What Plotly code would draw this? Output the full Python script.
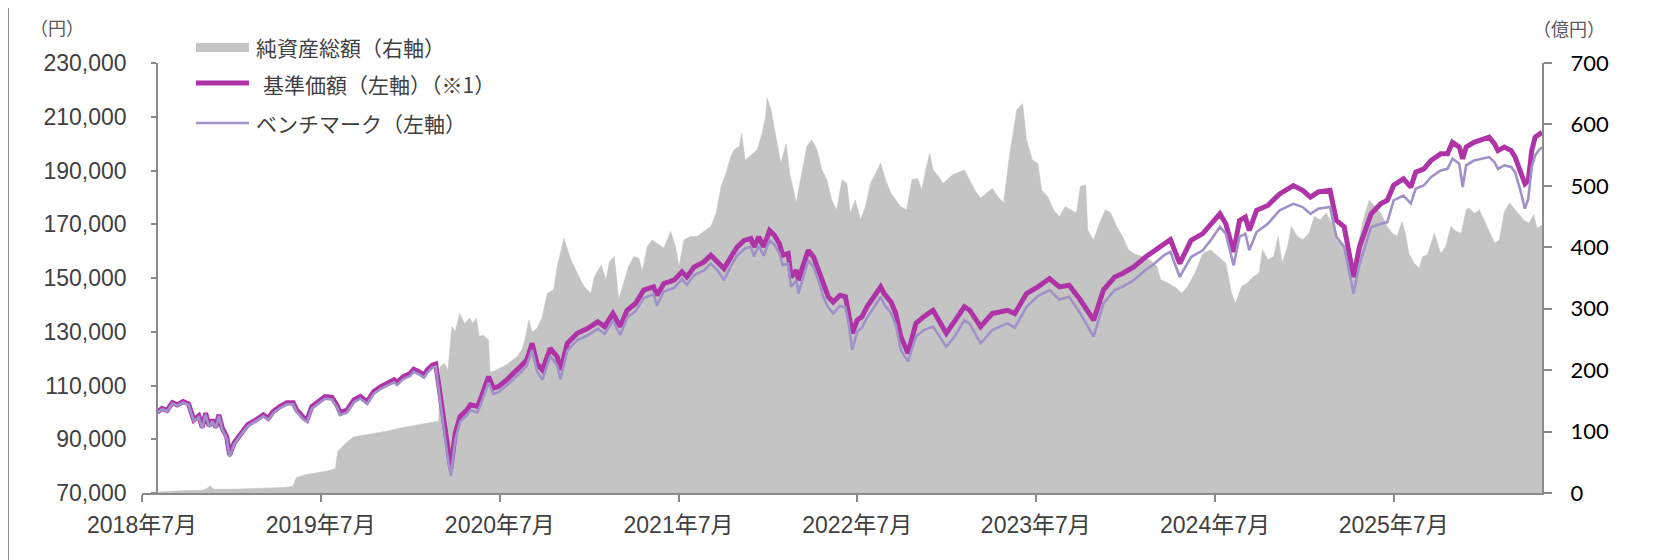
import plotly.graph_objects as go
from datetime import date

# ---------------- data ----------------
nav_dates = [
    "2018-08-01", "2018-08-11", "2018-08-21", "2018-09-01", "2018-09-11", "2018-09-23", "2018-10-04",
    "2018-10-15", "2018-10-25", "2018-11-01", "2018-11-08", "2018-11-15", "2018-11-22", "2018-11-29",
    "2018-12-05", "2018-12-12", "2018-12-21", "2018-12-27", "2019-01-05", "2019-01-19", "2019-02-02",
    "2019-02-19", "2019-03-06", "2019-03-16", "2019-03-26", "2019-04-09", "2019-04-23", "2019-05-06",
    "2019-05-13", "2019-05-26", "2019-06-03", "2019-06-13", "2019-06-27", "2019-07-10", "2019-07-24",
    "2019-08-03", "2019-08-10", "2019-08-24", "2019-09-07", "2019-09-20", "2019-10-04", "2019-10-17",
    "2019-11-01", "2019-11-14", "2019-11-28", "2019-12-04", "2019-12-17", "2019-12-31", "2020-01-07",
    "2020-01-17", "2020-01-28", "2020-02-04", "2020-02-14", "2020-02-21", "2020-03-01", "2020-03-08",
    "2020-03-15", "2020-03-23", "2020-04-01", "2020-04-11", "2020-04-25", "2020-05-02", "2020-05-16",
    "2020-05-22", "2020-06-08", "2020-06-18", "2020-06-28", "2020-07-15", "2020-08-05", "2020-08-25",
    "2020-09-05", "2020-09-15", "2020-09-26", "2020-10-12", "2020-10-26", "2020-11-02", "2020-11-16",
    "2020-12-06", "2020-12-27", "2021-01-17", "2021-01-31", "2021-02-17", "2021-03-04", "2021-03-18",
    "2021-04-04", "2021-04-21", "2021-05-11", "2021-05-18", "2021-06-01", "2021-06-22", "2021-07-08",
    "2021-07-18", "2021-08-02", "2021-08-22", "2021-09-05", "2021-09-19", "2021-10-02", "2021-10-16",
    "2021-10-29", "2021-11-12", "2021-11-26", "2021-12-02", "2021-12-12", "2021-12-22", "2022-01-03",
    "2022-01-13", "2022-01-23", "2022-01-30", "2022-02-10", "2022-02-16", "2022-02-27", "2022-03-03",
    "2022-03-13", "2022-03-23", "2022-04-03", "2022-04-13", "2022-04-23", "2022-05-03", "2022-05-13",
    "2022-05-27", "2022-06-07", "2022-06-14", "2022-06-21", "2022-07-01", "2022-07-11", "2022-07-21",
    "2022-08-04", "2022-08-18", "2022-08-25", "2022-09-08", "2022-09-18", "2022-09-28", "2022-10-13",
    "2022-10-29", "2022-11-14", "2022-12-03", "2022-12-30", "2023-01-16", "2023-02-05", "2023-02-16",
    "2023-03-10", "2023-04-03", "2023-05-04", "2023-05-19", "2023-06-12", "2023-07-05", "2023-07-29",
    "2023-08-18", "2023-09-07", "2023-09-30", "2023-10-27", "2023-11-16", "2023-12-09", "2023-12-25",
    "2024-01-17", "2024-02-10", "2024-02-26", "2024-03-19", "2024-04-01", "2024-04-20", "2024-05-13",
    "2024-06-06", "2024-06-22", "2024-07-11", "2024-07-23", "2024-08-08", "2024-08-20", "2024-09-01",
    "2024-09-09", "2024-09-24", "2024-10-17", "2024-11-10", "2024-12-08", "2024-12-27", "2025-01-12",
    "2025-01-28", "2025-02-21", "2025-03-06", "2025-03-22", "2025-04-10", "2025-04-22", "2025-05-16",
    "2025-06-05", "2025-06-18", "2025-07-01", "2025-07-21", "2025-08-05", "2025-08-15", "2025-09-01",
    "2025-09-15", "2025-10-05", "2025-10-19", "2025-10-29", "2025-11-12", "2025-11-19", "2025-11-26",
    "2025-12-12", "2025-12-26", "2026-01-12", "2026-01-23", "2026-01-30", "2026-02-12", "2026-02-26",
    "2026-03-06", "2026-03-16", "2026-03-26", "2026-04-02", "2026-04-09", "2026-04-16", "2026-04-23",
    "2026-04-30",
]

# 基準価額（円）
nav_values = [
    100000, 101500, 100700, 103600, 102800, 104000, 103200,
    97200, 98700, 94500, 99700, 95000, 97200, 94500,
    99100, 94100, 91000, 84200, 88600, 92300, 95400,
    97200, 99100, 97800, 100300, 102200, 103600, 103600,
    100900, 98200, 97200, 102200, 104000, 105900, 105600,
    102800, 99900, 100900, 104600, 105900, 104000, 107700,
    109600, 110800, 112100, 111100, 113300, 114500, 116000,
    115200, 113900, 115800, 117600, 118000, 105900, 97200,
    87300, 79000, 92300, 98500, 101000, 102800, 102200,
    104600, 113300, 109000, 109600, 112100, 115800, 119500,
    125700, 118000, 115800, 123800, 120700, 115800, 125700,
    129400, 131200, 133700, 131900, 136800, 131900, 138000,
    140500, 145500, 146700, 143600, 147900, 149200, 152300,
    150400, 154100, 156000, 158500, 156000, 153500, 157800,
    161600, 164000, 164700, 161600, 165300, 161600, 167700,
    165900, 162800, 158500, 159100, 150400, 152900, 149200,
    154100, 160300, 157800, 152900, 146700, 143000, 141100,
    143600, 143000, 136800, 129400, 134300, 135600, 139300,
    143000, 146700, 144200, 141100, 136800, 128200, 122000,
    133100, 135600, 138000, 129400, 134300, 139300, 138000,
    131900, 136800, 138000, 136800, 144200, 146700, 149800,
    146700, 147300, 141800, 134300, 145500, 150400, 151700,
    154100, 157800, 159700, 162800, 164300, 155400, 164000,
    166500, 170200, 173900, 170200, 159700, 171400, 172700,
    167700, 175200, 177000, 181300, 184400, 182600, 180100,
    182000, 182600, 171400, 169000, 150400, 161600, 173900,
    177700, 178900, 184500, 186900, 183800, 189400, 190600,
    193700, 196200, 196200, 200500, 198700, 194400, 198700,
    200500, 201200, 202400, 199900, 197400, 198700, 197400,
    195000, 190000, 185100, 186300, 197400, 202400, 203600,
    204200,
]

# ベンチマーク（円）
bench_values = [
    99800, 101200, 100400, 103300, 102500, 103600, 102800,
    96800, 98200, 94000, 99200, 94500, 96700, 94000,
    98600, 93600, 90400, 83500, 88000, 91700, 94800,
    96600, 98500, 97200, 99700, 101600, 103000, 103000,
    100200, 97400, 96400, 101400, 103200, 105100, 104800,
    102000, 99000, 100000, 103800, 105100, 103200, 106900,
    108800, 110000, 111200, 110200, 112400, 113600, 115100,
    114200, 112900, 114800, 116600, 117000, 104500, 95500,
    85000, 76300, 89800, 96500, 99000, 100800, 100000,
    102500, 111000, 106800, 107500, 110000, 113500, 117300,
    123200, 115300, 112100, 121000, 117500, 112300, 123000,
    126900, 128600, 131200, 129200, 134000, 128800, 135200,
    137600, 142500, 144000, 139800, 145000, 146300, 149600,
    147500, 151000, 152800, 155400, 152800, 149200, 154500,
    158400, 160800, 161600, 158000, 162000, 158300, 164000,
    162400, 159200, 154800, 155400, 146700, 149200, 144200,
    150400, 156600, 154000, 149000, 142800, 139000, 136800,
    139600, 139000, 132500, 123200, 130000, 131500, 135200,
    139000, 143000, 140200, 137000, 132500, 123200, 118900,
    128200, 130600, 131900, 124400, 128200, 134300, 132900,
    125700, 130600, 133100, 131500, 139300, 143300, 145500,
    142000, 143000, 136800, 128200, 140500, 145500, 146700,
    149200, 153000, 155000, 158500, 159700, 150400, 157800,
    160300, 164000, 169000, 166500, 154700, 165300, 166500,
    160300, 167100, 170200, 175200, 177600, 176400, 173900,
    175800, 176400, 165300, 161600, 144200, 155000, 169000,
    170200, 170800, 178900, 180700, 177700, 183200, 184500,
    187500, 190000, 190600, 194400, 192500, 183800, 191900,
    193700, 194400, 195000, 193100, 190600, 191900, 191300,
    189400, 183200, 175800, 179500, 191300, 195600, 197400,
    198700,
]

aum_dates = [
    "2018-08-01", "2018-08-31", "2018-10-01", "2018-10-31", "2018-11-10", "2018-11-17", "2018-11-25",
    "2019-01-15", "2019-03-01", "2019-04-15", "2019-05-05", "2019-05-12", "2019-06-01", "2019-06-20",
    "2019-07-15", "2019-07-31", "2019-08-05", "2019-08-20", "2019-09-05", "2019-09-25", "2019-10-20",
    "2019-11-15", "2019-12-10", "2020-01-10", "2020-02-10", "2020-02-27", "2020-03-01", "2020-03-10",
    "2020-03-17", "2020-03-25", "2020-04-01", "2020-04-10", "2020-04-20", "2020-04-30", "2020-05-07",
    "2020-05-14", "2020-05-20", "2020-05-28", "2020-06-08", "2020-06-11", "2020-06-19", "2020-07-15",
    "2020-08-05", "2020-08-15", "2020-08-22", "2020-08-29", "2020-09-05", "2020-09-15", "2020-09-25",
    "2020-10-06", "2020-10-19", "2020-10-26", "2020-11-09", "2020-11-23", "2020-12-06", "2020-12-20",
    "2021-01-03", "2021-01-10", "2021-01-24", "2021-02-03", "2021-02-10", "2021-02-20", "2021-03-01",
    "2021-03-11", "2021-03-21", "2021-04-01", "2021-04-11", "2021-04-18", "2021-04-28", "2021-05-08",
    "2021-05-18", "2021-06-01", "2021-06-15", "2021-06-25", "2021-07-02", "2021-07-12", "2021-07-26",
    "2021-08-09", "2021-08-22", "2021-09-05", "2021-09-16", "2021-09-26", "2021-10-06", "2021-10-16",
    "2021-10-23", "2021-11-02", "2021-11-07", "2021-11-14", "2021-11-26", "2021-12-09", "2021-12-19",
    "2021-12-26", "2021-12-29", "2022-01-06", "2022-01-16", "2022-01-26", "2022-02-06", "2022-02-13",
    "2022-02-27", "2022-03-03", "2022-03-10", "2022-03-20", "2022-03-30", "2022-04-10", "2022-04-20",
    "2022-04-30", "2022-05-10", "2022-05-20", "2022-05-31", "2022-06-10", "2022-06-17", "2022-06-27",
    "2022-07-08", "2022-07-18", "2022-07-28", "2022-08-08", "2022-08-18", "2022-08-28", "2022-09-08",
    "2022-09-18", "2022-09-28", "2022-10-10", "2022-10-21", "2022-11-02", "2022-11-10", "2022-11-18",
    "2022-11-26", "2022-12-03", "2022-12-15", "2022-12-23", "2023-01-12", "2023-02-05", "2023-02-16",
    "2023-02-28", "2023-03-10", "2023-03-22", "2023-04-03", "2023-04-14", "2023-04-26", "2023-05-08",
    "2023-05-16", "2023-05-23", "2023-06-04", "2023-06-12", "2023-06-24", "2023-07-05", "2023-07-13",
    "2023-07-25", "2023-08-06", "2023-08-18", "2023-08-30", "2023-09-10", "2023-09-22", "2023-09-30",
    "2023-10-11", "2023-10-15", "2023-10-27", "2023-11-08", "2023-11-20", "2023-12-01", "2023-12-13",
    "2023-12-25", "2024-01-06", "2024-01-17", "2024-02-03", "2024-02-18", "2024-03-04", "2024-03-12",
    "2024-03-27", "2024-04-12", "2024-04-24", "2024-05-06", "2024-05-21", "2024-06-06", "2024-06-22",
    "2024-07-07", "2024-07-23", "2024-08-04", "2024-08-12", "2024-08-24", "2024-09-05", "2024-09-17",
    "2024-09-29", "2024-10-06", "2024-10-17", "2024-10-29", "2024-11-07", "2024-11-15", "2024-11-26",
    "2024-12-04", "2024-12-16", "2024-12-27", "2025-01-09", "2025-01-20", "2025-02-01", "2025-02-13",
    "2025-02-25", "2025-03-06", "2025-03-22", "2025-04-03", "2025-04-10", "2025-04-18", "2025-04-30",
    "2025-05-12", "2025-05-24", "2025-06-05", "2025-06-18", "2025-06-28", "2025-07-08", "2025-07-18",
    "2025-07-25", "2025-08-01", "2025-08-12", "2025-08-22", "2025-08-29", "2025-09-08", "2025-09-22",
    "2025-10-05", "2025-10-15", "2025-10-26", "2025-11-05", "2025-11-16", "2025-11-26", "2025-12-02",
    "2025-12-13", "2025-12-23", "2026-01-03", "2026-01-13", "2026-01-23", "2026-02-02", "2026-02-12",
    "2026-02-23", "2026-03-03", "2026-03-13", "2026-03-23", "2026-04-03", "2026-04-13", "2026-04-20",
    "2026-04-30",
]

# 純資産総額（億円）
aum_values = [
    1.5, 3.0, 4.0, 4.5, 7.0, 12.0, 6.0,
    6.5, 7.5, 9.0, 11.0, 25.0, 30.0, 33.0,
    36.0, 40.0, 68.0, 80.0, 91.0, 94.0, 97.0,
    101.0, 106.0, 110.0, 114.0, 117.0, 206.0, 211.0,
    200.0, 271.0, 263.0, 292.0, 276.0, 285.0, 276.0,
    285.0, 255.0, 257.0, 249.0, 197.0, 198.0, 209.0,
    222.0, 233.0, 252.0, 282.0, 262.0, 268.0, 285.0,
    325.0, 331.0, 368.0, 415.0, 380.0, 358.0, 336.0,
    325.0, 352.0, 371.0, 347.0, 377.0, 385.0, 315.0,
    342.0, 369.0, 385.0, 382.0, 361.0, 401.0, 412.0,
    407.0, 399.0, 426.0, 401.0, 369.0, 412.0, 418.0,
    418.0, 426.0, 434.0, 456.0, 499.0, 521.0, 548.0,
    559.0, 564.0, 586.0, 542.0, 550.0, 559.0, 586.0,
    613.0, 643.0, 624.0, 580.0, 537.0, 569.0, 521.0,
    472.0, 493.0, 521.0, 564.0, 575.0, 559.0, 526.0,
    510.0, 477.0, 461.0, 510.0, 504.0, 456.0, 477.0,
    445.0, 466.0, 504.0, 521.0, 537.0, 510.0, 488.0,
    477.0, 466.0, 461.0, 510.0, 512.0, 493.0, 526.0,
    553.0, 526.0, 515.0, 504.0, 518.0, 526.0, 510.0,
    491.0, 480.0, 488.0, 496.0, 483.0, 472.0, 548.0,
    591.0, 624.0, 634.0, 575.0, 542.0, 537.0, 493.0,
    483.0, 461.0, 450.0, 466.0, 461.0, 456.0, 499.0,
    502.0, 428.0, 412.0, 439.0, 461.0, 456.0, 434.0,
    418.0, 396.0, 390.0, 385.0, 380.0, 369.0, 347.0,
    342.0, 334.0, 325.0, 336.0, 358.0, 390.0, 396.0,
    385.0, 374.0, 325.0, 309.0, 336.0, 342.0, 352.0,
    358.0, 396.0, 380.0, 385.0, 418.0, 374.0, 401.0,
    434.0, 418.0, 412.0, 423.0, 450.0, 445.0, 456.0,
    439.0, 412.0, 401.0, 369.0, 347.0, 401.0, 445.0,
    477.0, 466.0, 455.0, 434.0, 423.0, 418.0, 442.0,
    423.0, 390.0, 374.0, 366.0, 385.0, 388.0, 423.0,
    390.0, 401.0, 434.0, 426.0, 423.0, 461.0, 464.0,
    455.0, 461.0, 442.0, 423.0, 407.0, 412.0, 458.0,
    472.0, 464.0, 455.0, 445.0, 439.0, 453.0, 431.0,
    436.0,
]

x_tick_dates = ["2018-07-01", "2019-07-01", "2020-07-01", "2021-07-01",
                "2022-07-01", "2023-07-01", "2024-07-01", "2025-07-01"]
x_tick_labels = ["2018年7月", "2019年7月", "2020年7月", "2021年7月",
                 "2022年7月", "2023年7月", "2024年7月", "2025年7月"]
left_ticks = [70000, 90000, 110000, 130000, 150000, 170000, 190000, 210000, 230000]
right_ticks = [0, 100, 200, 300, 400, 500, 600, 700]

x_range = ["2018-07-01", "2026-04-30"]

# ---------------- layout helpers ----------------
# The page body adds an 8px margin, so the figure is drawn 8px smaller and
# all target pixel positions are shifted by that offset.
OFF = 8
W, H = 1658 - OFF, 560 - OFF
L, R, T, B = 142 - OFF, 1542 - OFF, 63 - OFF, 493 - OFF


def px_x(px):
    return (px - OFF - L) / (R - L)


def px_y(py):
    return (B - (py - OFF)) / (B - T)


d0 = date.fromisoformat(x_range[0])
d1 = date.fromisoformat(x_range[1])
ds = date.fromisoformat(nav_dates[0])
left_axis_pos = (ds - d0).days / (d1 - d0).days

AXIS = "#8a8a8a"
GRAY = "#c4c4c4"
PURPLE = "#ae33a6"
LAVENDER = "#a091c8"
TXT = "#404040"
CJK = "Noto Sans CJK JP"

fig = go.Figure()

fig.add_trace(go.Scatter(
    x=aum_dates, y=aum_values, name="純資産総額（右軸）",
    mode="lines", fill="tozeroy", fillcolor=GRAY,
    line=dict(color=GRAY, width=0.5), yaxis="y", hoverinfo="skip",
))
fig.add_trace(go.Scatter(
    x=nav_dates, y=nav_values, name="基準価額（左軸）（※1）",
    mode="lines", line=dict(color=PURPLE, width=5), yaxis="y2",
))
fig.add_trace(go.Scatter(
    x=nav_dates, y=bench_values, name="ベンチマーク（左軸）",
    mode="lines", line=dict(color=LAVENDER, width=2.6), yaxis="y2",
))

fig.update_layout(
    width=W, height=H,
    margin=dict(l=L, r=W - R, t=T, b=H - B, pad=0),
    paper_bgcolor="white", plot_bgcolor="white",
    showlegend=False,
    xaxis=dict(
        type="date", range=x_range,
        tickvals=x_tick_dates, ticktext=x_tick_labels,
        showline=True, linecolor=AXIS, linewidth=2,
        ticks="outside", ticklen=7, tickwidth=2, tickcolor=AXIS,
        showgrid=False, zeroline=False,
        tickfont=dict(family="Liberation Sans, " + CJK, size=23, color=TXT),
        ticklabelstandoff=3,
    ),
    yaxis=dict(
        range=[0, 700], side="right", anchor="x",
        tickvals=right_ticks, ticktext=[str(v) for v in right_ticks],
        showline=True, linecolor=AXIS, linewidth=2,
        ticks="outside", ticklen=8, tickwidth=2, tickcolor=AXIS,
        showgrid=False, zeroline=False,
        tickfont=dict(family="Lato", size=22, color="#000000"),
        ticklabelstandoff=14,
    ),
    yaxis2=dict(
        range=[70000, 230000], side="left", overlaying="y",
        anchor="free", position=left_axis_pos,
        tickvals=left_ticks, ticktext=[f"{v:,}" for v in left_ticks],
        showline=True, linecolor=AXIS, linewidth=2,
        ticks="outside", ticklen=5, tickwidth=2, tickcolor=AXIS,
        showgrid=False, zeroline=False,
        tickfont=dict(family="Liberation Sans", size=23, color=TXT),
        ticklabelstandoff=20,
    ),
)

# outer frame
fig.add_shape(type="rect", xref="paper", yref="paper",
              x0=px_x(8), x1=px_x(1652), y0=px_y(3), y1=px_y(566),
              line=dict(color="#8c8c8c", width=2), fillcolor="rgba(0,0,0,0)", layer="above")

# legend (manual)
fig.add_shape(type="rect", xref="paper", yref="paper",
              x0=px_x(196), x1=px_x(249), y0=px_y(43), y1=px_y(52),
              line=dict(width=0), fillcolor=GRAY)
fig.add_shape(type="line", xref="paper", yref="paper",
              x0=px_x(196), x1=px_x(249), y0=px_y(83), y1=px_y(83),
              line=dict(color=PURPLE, width=5))
fig.add_shape(type="line", xref="paper", yref="paper",
              x0=px_x(196), x1=px_x(249), y0=px_y(123), y1=px_y(123),
              line=dict(color=LAVENDER, width=2.6))

legend_items = [("純資産総額（右軸）", 254, 47), ("基準価額（左軸）（※1）", 261, 84), ("ベンチマーク（左軸）", 254, 123)]
for text, px, py in legend_items:
    fig.add_annotation(xref="paper", yref="paper", x=px_x(px), y=px_y(py),
                       text=text, showarrow=False, xanchor="left", yanchor="middle",
                       font=dict(family=CJK, size=21, color=TXT))

# unit labels
fig.add_annotation(xref="paper", yref="paper", x=px_x(57), y=px_y(27), text="（円）",
                   showarrow=False, xanchor="center", yanchor="middle",
                   font=dict(family=CJK, size=18, color="#595959"))
fig.add_annotation(xref="paper", yref="paper", x=px_x(1569), y=px_y(28), text="（億円）",
                   showarrow=False, xanchor="center", yanchor="middle",
                   font=dict(family=CJK, size=18, color="#595959"))

fig.write_html("out.html")
